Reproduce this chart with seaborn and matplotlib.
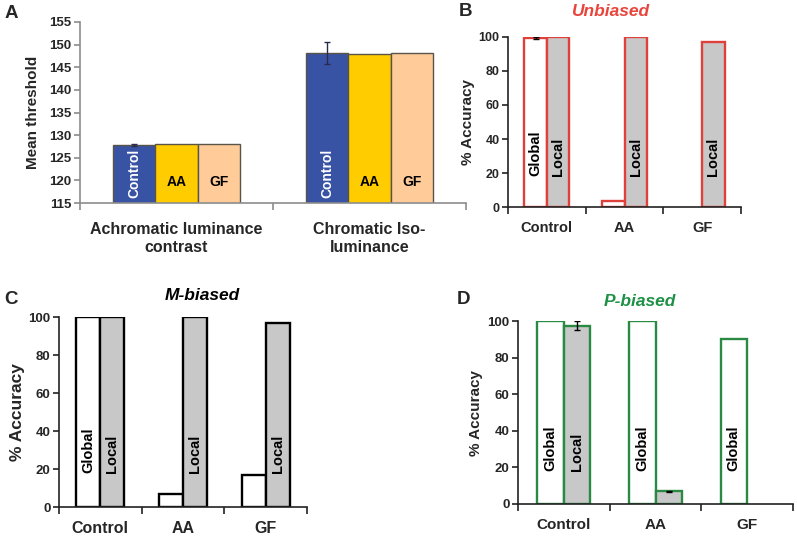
import numpy as np
import pandas as pd
import seaborn as sns
import matplotlib.pyplot as plt

# ---- data ----
a_groups = ['Achromatic luminance\ncontrast', 'Chromatic Iso-\nluminance']
a_series = ['Control', 'AA', 'GF']
a_control = [127.8, 148.1]
a_aa = [128.0, 148.0]
a_gf = [128.0, 148.2]
a_control_err = [0.3, 2.4]
a_yticks = [115, 120, 125, 130, 135, 140, 145, 150, 155]

conds = ['Control', 'AA', 'GF']
tasks = ['Global', 'Local']
acc_yticks = [0, 20, 40, 60, 80, 100]

b_global = [99.5, 3.5, 0.0]
b_local = [100.0, 100.0, 97.0]
b_global_err = [0.5, 0.0, 0.0]
b_local_err = [0.0, 0.0, 0.0]

c_global = [100.0, 7.0, 17.0]
c_local = [100.0, 100.0, 97.0]

d_global = [100.0, 100.0, 90.0]
d_local = [97.5, 7.0, 0.0]
d_global_err = [0.0, 0.0, 0.0]
d_local_err = [2.5, 0.3, 0.0]

sns.set_theme(style='white')
plt.rcParams['font.family'] = ['Liberation Sans', 'DejaVu Sans']

W, H = 797, 540
fig = plt.figure(figsize=(W / 100, H / 100), dpi=100)


def px_axes(left, top, right, bottom):
    return fig.add_axes([left / W, 1 - bottom / H, (right - left) / W, (bottom - top) / H])


def style_axes(ax, cats, yticks, spine_col, tick_size, cat_size, pad, lw=1.2):
    n = len(cats)
    for s in ['top', 'right']:
        ax.spines[s].set_visible(False)
    for s in ['left', 'bottom']:
        ax.spines[s].set_color(spine_col)
        ax.spines[s].set_linewidth(lw)
    ax.set_xlim(-0.5, n - 0.5)
    ax.set_xticks(range(n), cats, fontsize=cat_size, fontweight='bold')
    ax.set_xticks(np.arange(-0.5, n), minor=True)
    ax.set_yticks(yticks, [str(t) for t in yticks], fontsize=tick_size, fontweight='bold')
    ax.tick_params(axis='x', which='minor', length=5, width=lw, color=spine_col, direction='out', bottom=True)
    ax.tick_params(axis='x', which='major', length=0, pad=pad)
    ax.tick_params(axis='y', which='major', length=4, width=lw, color=spine_col, direction='out', left=True,
                   pad=2)
    ax.set_xlabel('')


def accuracy_panel(ax, glob, loc, glob_err, loc_err, edge, ylab_size, tick_size, cat_size, ylab_dx):
    df = pd.DataFrame({
        'cond': conds * 2,
        'task': ['Global'] * 3 + ['Local'] * 3,
        'val': list(glob) + list(loc),
    })
    sns.barplot(data=df, x='cond', y='val', hue='task', order=conds, hue_order=tasks,
                palette={'Global': 'white', 'Local': '#c8c8c8'}, width=0.58, saturation=1,
                edgecolor=edge, linewidth=1.7, errorbar=None, legend=False, ax=ax)
    errs = [glob_err, loc_err]
    bar_sets = list(ax.containers)
    for k, cont in enumerate(bar_sets):
        for i, bar in enumerate(cont):
            h = bar.get_height()
            cx = bar.get_x() + bar.get_width() / 2
            if h <= 0:
                bar.set_visible(False)
                continue
            if errs[k][i] > 0:
                ax.errorbar(cx, h, yerr=errs[k][i], color='black', lw=1, capsize=2, capthick=1)
            if h > 50:
                ax.text(cx, 18, tasks[k], rotation=90, ha='center', va='bottom',
                        fontsize=10.5, fontweight='bold', color='black')
    ax.set_ylim(0, 100)
    style_axes(ax, conds, acc_yticks, '#222222', tick_size, cat_size, 10)
    ax.set_ylabel('% Accuracy', fontsize=ylab_size, fontweight='bold')
    ax.yaxis.set_label_coords(ylab_dx, 0.5)
    return ax


# ---- panel A ----
axA = px_axes(80, 22, 466, 203)
dfa = pd.DataFrame({
    'group': a_groups * 3,
    'series': sum([[s] * 2 for s in a_series], []),
    'val': a_control + a_aa + a_gf,
})
sns.barplot(data=dfa, x='group', y='val', hue='series', order=a_groups, hue_order=a_series,
            palette={'Control': '#3953a4', 'AA': '#ffcc00', 'GF': '#ffcc99'}, width=0.66, saturation=1,
            edgecolor='#5a5448', linewidth=1.0, errorbar=None, legend=False, ax=axA)
bar_sets = list(axA.containers)
for k, cont in enumerate(bar_sets):
    for i, bar in enumerate(cont):
        cx = bar.get_x() + bar.get_width() / 2
        if k == 0:
            axA.errorbar(cx, bar.get_height(), yerr=a_control_err[i], color='#2a2a50', lw=1,
                         capsize=2.5, capthick=1)
            axA.text(cx, 116, a_series[k], rotation=90, ha='center', va='bottom',
                     fontsize=10, fontweight='bold', color='white')
        else:
            axA.text(cx, 119.6, a_series[k], ha='center', va='center',
                     fontsize=10, fontweight='bold', color='black')
axA.set_ylim(115, 155)
style_axes(axA, a_groups, a_yticks, '#8c8c8c', 9.5, 11.5, 14)
axA.set_ylabel('Mean threshold', fontsize=11, fontweight='bold')
axA.yaxis.set_label_coords(-40 / 386, 0.5)

# ---- panel B ----
axB = px_axes(508, 37, 741, 207)
accuracy_panel(axB, b_global, b_local, b_global_err, b_local_err, '#e0403a', 11, 9, 10.5, -33 / 233)

# ---- panel C ----
axC = px_axes(59, 317, 307, 507)
accuracy_panel(axC, c_global, c_local, [0, 0, 0], [0, 0, 0], 'black', 12.5, 9.5, 11.5, -34 / 248)

# ---- panel D ----
axD = px_axes(518, 321, 793, 504)
accuracy_panel(axD, d_global, d_local, d_global_err, d_local_err, '#2a8a44', 11, 9.5, 11, -35 / 275)

# titles and panel letters
fig.text(611 / W, 1 - 12 / H, 'Unbiased', ha='center', va='center', fontsize=12.5,
         fontweight='bold', fontstyle='italic', color='#e8453c')
fig.text(202 / W, 1 - 295 / H, 'M-biased', ha='center', va='center', fontsize=12.5,
         fontweight='bold', fontstyle='italic', color='black')
fig.text(640 / W, 1 - 301 / H, 'P-biased', ha='center', va='center', fontsize=12.5,
         fontweight='bold', fontstyle='italic', color='#1f9146')
for letter, x, y in [('A', 11, 13), ('B', 465, 12), ('C', 11, 300), ('D', 464, 300)]:
    fig.text(x / W, 1 - y / H, letter, ha='center', va='center', fontsize=13.5, fontweight='bold')

fig.savefig('out.png', dpi=100)
